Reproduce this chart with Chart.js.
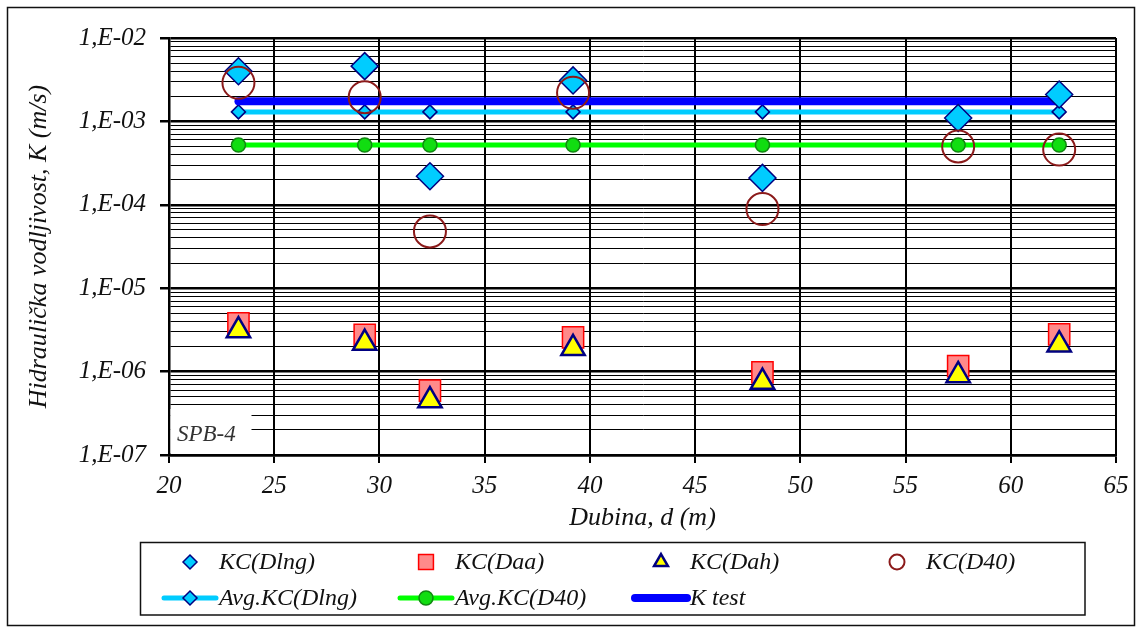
<!DOCTYPE html>
<html>
<head>
<meta charset="utf-8">
<script src="https://cdn.jsdelivr.net/npm/chart.js@4.4.1/dist/chart.umd.min.js"></script>
<style>
  html, body { margin: 0; padding: 0; background: #fff; }
  #wrap { position: relative; width: 1141px; height: 632px; }
</style>
</head>
<body>
<div id="wrap"><canvas id="kChart" width="1141" height="632"></canvas></div>
<script>
// depths of the tested intervals (m)
const depth = [23.3, 29.3, 32.4, 39.2, 48.2, 57.5, 62.3];

// hydraulic conductivity, K (m/s)
const kcDlng = [4.0e-3, 4.6e-3, 2.2e-4, 3.1e-3, 2.1e-4, 1.1e-3, 2.1e-3];
const kcDaa  = [3.8e-6, 2.75e-6, 5.9e-7, 2.57e-6, 9.8e-7, 1.16e-6, 2.8e-6];
const kcDah  = [3.1e-6, 2.2e-6, 4.5e-7, 1.9e-6, 7.5e-7, 9.0e-7, 2.1e-6];
const kcD40  = [2.9e-3, 1.95e-3, 4.8e-5, 2.2e-3, 8.9e-5, 5.0e-4, 4.6e-4];
const avgDlng = [1.3e-3, 1.3e-3, 1.3e-3, 1.3e-3, 1.3e-3, 1.3e-3, 1.3e-3];
const avgD40  = [5.2e-4, 5.2e-4, 5.2e-4, 5.2e-4, 5.2e-4, 5.2e-4, 5.2e-4];
const kTest   = [1.75e-3, 1.75e-3, 1.75e-3, 1.75e-3, 1.75e-3, 1.75e-3, 1.75e-3];

// axis ticks
const xTicks = [20, 25, 30, 35, 40, 45, 50, 55, 60, 65];
const yDecades = [1e-7, 1e-6, 1e-5, 1e-4, 1e-3, 1e-2];

const serif = '"Liberation Serif", "Times New Roman", serif';

const pts = (ys) => depth.map((d, i) => ({ x: d, y: ys[i] }));
const isDecade = (v) => Math.abs(Math.log10(v) - Math.round(Math.log10(v))) < 1e-6;
const fmtK = (v) => {
    const e = Math.round(Math.log10(v));
    return '1,E' + (e < 0 ? '-' : '+') + String(Math.abs(e)).padStart(2, '0');
};

// frame, legend box and the well label
const decorations = {
    id: 'decorations',
    beforeDraw(chart) {
        const ctx = chart.ctx;
        ctx.save();
        ctx.fillStyle = '#fff';
        ctx.fillRect(0, 0, chart.width, chart.height);
        ctx.restore();
    },
    beforeDatasetsDraw(chart) {
        const { ctx, chartArea } = chart;
        ctx.save();
        ctx.fillStyle = '#fff';
        ctx.fillRect(chartArea.left + 1.5, chartArea.bottom - 46, 81, 44);
        ctx.fillStyle = '#333';
        ctx.font = 'italic 23px ' + serif;
        ctx.textBaseline = 'alphabetic';
        ctx.fillText('SPB-4', chartArea.left + 8, chartArea.bottom - 14);
        ctx.restore();
    },
    afterDraw(chart) {
        const ctx = chart.ctx;
        const ds = chart.data.datasets;
        ctx.save();
        // outer frame
        ctx.strokeStyle = '#111';
        ctx.lineWidth = 1.5;
        ctx.strokeRect(7.5, 7.5, 1127, 618);
        // legend box
        ctx.lineWidth = 1.5;
        ctx.strokeRect(140.5, 542.5, 944.5, 72.5);

        const cols = [162, 398, 633, 869];
        const rows = [562, 598];
        const draw = (d, col, row) => {
            const y = rows[row];
            if (d.showLine) {
                ctx.strokeStyle = d.borderColor;
                ctx.lineWidth = d.borderWidth;
                ctx.lineCap = 'round';
                ctx.beginPath();
                ctx.moveTo(cols[col] + 2, y);
                ctx.lineTo(cols[col] + 54, y);
                ctx.stroke();
            }
            if (d.pointRadius > 0) {
                ctx.fillStyle = d.pointBackgroundColor;
                ctx.strokeStyle = d.pointBorderColor;
                ctx.lineWidth = d.pointBorderWidth;
                const r = d.legendRadius || 7;
                Chart.helpers.drawPoint(ctx, {
                    pointStyle: d.pointStyle, radius: r, rotation: 0, borderWidth: d.pointBorderWidth
                }, cols[col] + 28, y);
            }
            ctx.fillStyle = '#111';
            ctx.font = 'italic 24px ' + serif;
            ctx.textBaseline = 'middle';
            ctx.textAlign = 'left';
            ctx.fillText(d.label, cols[col] + 57, y + 1);
        };
        [0, 1, 2, 3].forEach((i, c) => draw(ds[i], c, 0));
        [4, 5, 6].forEach((i, c) => draw(ds[i], c, 1));
        ctx.restore();
    }
};

new Chart(document.getElementById('kChart'), {
    type: 'scatter',
    data: {
        datasets: [
            {
                label: 'KC(Dlng)', data: pts(kcDlng), order: 1,
                pointStyle: 'rectRot', pointRadius: 13.5, legendRadius: 7,
                pointBackgroundColor: '#00ccff', pointBorderColor: '#000080', pointBorderWidth: 1.5,
            },
            {
                label: 'KC(Daa)', data: pts(kcDaa), order: 3,
                pointStyle: 'rect', pointRadius: 15, legendRadius: 10.5,
                pointBackgroundColor: '#ff8a8a', pointBorderColor: '#ff0000', pointBorderWidth: 1.5,
            },
            {
                label: 'KC(Dah)', data: pts(kcDah), order: 2,
                pointStyle: 'triangle', pointRadius: 13.5, legendRadius: 8,
                pointBackgroundColor: '#ffff00', pointBorderColor: '#000080', pointBorderWidth: 2.5,
            },
            {
                label: 'KC(D40)', data: pts(kcD40), order: 0,
                pointStyle: 'circle', pointRadius: 16, legendRadius: 7.5,
                pointBackgroundColor: 'rgba(0,0,0,0)', pointBorderColor: '#8b1a1a', pointBorderWidth: 2,
            },
            {
                label: 'Avg.KC(Dlng)', data: pts(avgDlng), order: 5, showLine: true,
                borderColor: '#00ccff', borderWidth: 5,
                pointStyle: 'rectRot', pointRadius: 7, legendRadius: 7,
                pointBackgroundColor: '#00ccff', pointBorderColor: '#000080', pointBorderWidth: 1.5,
            },
            {
                label: 'Avg.KC(D40)', data: pts(avgD40), order: 6, showLine: true,
                borderColor: '#00ff00', borderWidth: 5,
                pointStyle: 'circle', pointRadius: 7, legendRadius: 7,
                pointBackgroundColor: '#11dd11', pointBorderColor: '#118811', pointBorderWidth: 1.5,
            },
            {
                label: 'K test', data: pts(kTest), order: 4, showLine: true,
                borderColor: '#0000ff', borderWidth: 8, borderCapStyle: 'round',
                pointRadius: 0,
            },
        ],
    },
    options: {
        responsive: false,
        animation: false,
        layout: { padding: { left: 20, top: 38, right: 25, bottom: 97 } },
        plugins: {
            legend: { display: false },
            tooltip: { enabled: false },
        },
        scales: {
            x: {
                type: 'linear',
                min: 20,
                max: 65,
                afterBuildTicks: (scale) => { scale.ticks = xTicks.map(v => ({ value: v })); },
                afterFit: (scale) => { scale.height = 80; },
                ticks: {
                    color: '#111',
                    padding: 8,
                    font: { family: serif, size: 25, style: 'italic' },
                },
                grid: { color: '#000', lineWidth: 2, tickLength: 8 },
                border: { color: '#000', width: 2.5 },
                title: {
                    display: true,
                    text: 'Dubina, d (m)',
                    color: '#111',
                    padding: { top: 0, bottom: 1 },
                    font: { family: serif, size: 26, style: 'italic' },
                },
            },
            y: {
                type: 'logarithmic',
                min: 1e-7,
                max: 1e-2,
                afterBuildTicks: (scale) => {
                    const t = [];
                    yDecades.forEach((d, i) => {
                        t.push({ value: d, major: true });
                        if (i < yDecades.length - 1) {
                            for (let m = 2; m <= 9; m++) t.push({ value: d * m });
                        }
                    });
                    scale.ticks = t;
                },
                afterFit: (scale) => { scale.width = 149; },
                ticks: {
                    autoSkip: false,
                    color: '#111',
                    padding: 14,
                    font: { family: serif, size: 25, style: 'italic' },
                    callback: (v) => isDecade(v) ? fmtK(v) : '',
                },
                grid: {
                    color: '#000',
                    lineWidth: (c) => (c.tick && isDecade(c.tick.value)) ? 2.5 : 1,
                    tickColor: (c) => (c.tick && isDecade(c.tick.value)) ? '#000' : 'rgba(0,0,0,0)',
                    tickLength: 9,
                },
                border: { color: '#000', width: 2.5 },
                title: {
                    display: true,
                    text: 'Hidraulička vodljivost, K (m/s)',
                    color: '#111',
                    padding: { top: 4, bottom: 0 },
                    font: { family: serif, size: 26, style: 'italic' },
                },
            },
        },
    },
    plugins: [decorations],
});
</script>
</body>
</html>
